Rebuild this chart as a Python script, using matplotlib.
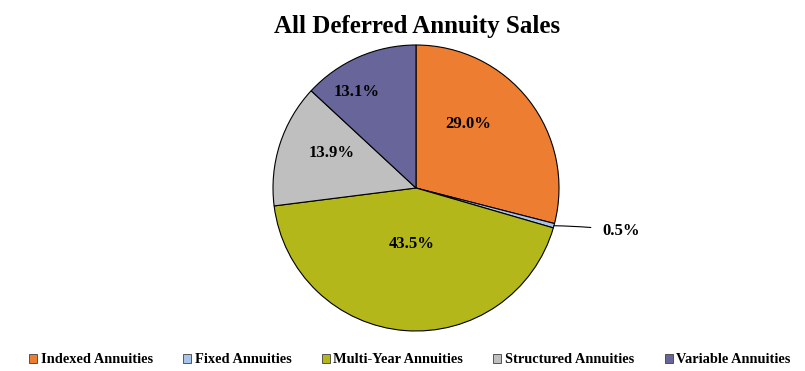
import numpy as np
import matplotlib
matplotlib.use("Agg")
import matplotlib.pyplot as plt
from matplotlib.patches import Patch

plt.rcParams['font.family'] = ['Liberation Serif', 'DejaVu Serif']
plt.rcParams['font.weight'] = 'bold'

title = "All Deferred Annuity Sales"
categories = ["Indexed Annuities", "Fixed Annuities", "Multi-Year Annuities",
              "Structured Annuities", "Variable Annuities"]
shares = [29.0, 0.5, 43.5, 13.9, 13.1]
colors = ["#ED7D31", "#A9C4EB", "#B3B71A", "#BFBFBF", "#67659A"]
# how far from the centre each label sits (fraction of radius), None = outside label
label_dist = [0.58, None, 0.39, 0.64, 0.79]
label_rot = [13, 0, 0, -5, 8]

W, H = 805, 371
fig = plt.figure(figsize=(W / 100, H / 100), dpi=100)
ax = fig.add_axes([0, 0, 1, 1])

cx, cy, r = 416, H - 188, 143
wedges, _ = ax.pie(shares, colors=colors, startangle=90, counterclock=False,
                   center=(cx, cy), radius=r, frame=True,
                   wedgeprops=dict(edgecolor='black', linewidth=0.8))
ax.set_xlim(0, W)
ax.set_ylim(0, H)
ax.axis('off')

for w, val, d, rot in zip(wedges, shares, label_dist, label_rot):
    mid = np.deg2rad((w.theta1 + w.theta2) / 2)
    ex, ey = cx + r * np.cos(mid), cy + r * np.sin(mid)
    lab = f"{val:.1f}%"
    if d is None:
        ax.annotate(lab, xy=(ex, ey), xytext=(48, -5), textcoords='offset pixels',
                    fontsize=12, fontweight='bold', va='center', ha='left',
                    arrowprops=dict(arrowstyle='-', color='black', lw=0.8,
                                    shrinkA=6, shrinkB=0,
                                    connectionstyle='arc3,rad=0.03'))
    else:
        ang = mid + np.deg2rad(rot)
        ax.text(cx + d * r * np.cos(ang), cy + d * r * np.sin(ang), lab,
                fontsize=12, fontweight='bold', ha='center', va='center')

fig.text(0.518, 0.928, title, fontsize=18, fontweight='bold', ha='center', va='center')

handles = [Patch(facecolor=c, edgecolor='#404040', linewidth=0.6) for c in colors]
fig.legend(handles, categories, loc='center', bbox_to_anchor=(0.509, 0.03),
           ncol=5, frameon=False, fontsize=10.4, handlelength=0.55, handleheight=0.6,
           handletextpad=0.25, columnspacing=2.1, borderaxespad=0)

fig.savefig("out.png", dpi=100)
